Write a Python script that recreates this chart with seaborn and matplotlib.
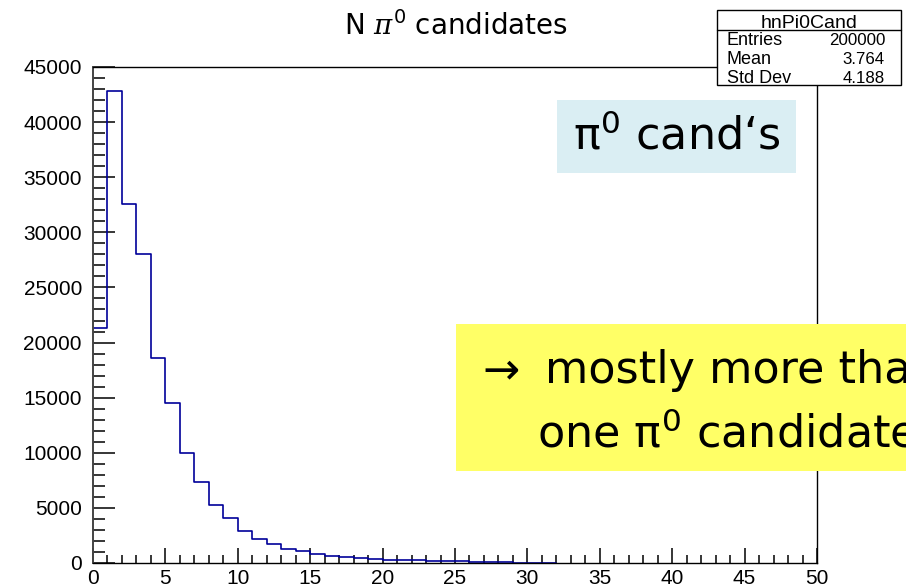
import numpy as np
import pandas as pd
import matplotlib
matplotlib.use("Agg")
import matplotlib.pyplot as plt
from matplotlib.patches import Rectangle
from matplotlib.lines import Line2D
from matplotlib.ticker import MultipleLocator
import seaborn as sns

# Number of pi0 candidates per event (integer bins 0..31) and entries per bin
n_candidates = list(range(32))
counts = [21350, 42850, 32600, 28050, 18600, 14480, 9950, 7380, 5260, 4050,
          2900, 2210, 1690, 1240, 1060, 820, 610, 510, 420, 340,
          250, 240, 230, 160, 150, 140, 60, 55, 50, 45, 40, 35]

x_ticks = list(range(0, 51, 5))
y_ticks = list(range(0, 45001, 5000))

hist_name = "hnPi0Cand"
stat_labels = ["Entries", "Mean", "Std Dev"]
stat_values = ["200000", "3.764", "4.188"]

sns.set_style("white")
plt.rcParams["font.family"] = ["Liberation Sans", "DejaVu Sans"]
plt.rcParams["text.color"] = "black"
plt.rcParams["mathtext.fontset"] = "custom"
plt.rcParams["mathtext.rm"] = "DejaVu Sans"
plt.rcParams["mathtext.it"] = "DejaVu Serif:italic"

W, H = 906, 587
fig = plt.figure(figsize=(W / 100, H / 100), dpi=100)


def fx(x):
    return x / W


def fy(y):
    return 1 - y / H


ax = fig.add_axes([fx(93), fy(563), fx(817 - 93), (563 - 67) / H])

df = pd.DataFrame({"n": n_candidates, "w": counts})
sns.histplot(data=df, x="n", weights="w", bins=list(range(33)),
             element="step", fill=False, color="#000099", linewidth=1.2, ax=ax)

ax.set_xlim(0, 50)
ax.set_ylim(0, 45000)
ax.set_xticks(x_ticks)
ax.set_yticks(y_ticks)
ax.xaxis.set_minor_locator(MultipleLocator(1))
ax.yaxis.set_minor_locator(MultipleLocator(1000))
ax.set_xlabel("")
ax.set_ylabel("")

ax.tick_params(axis="both", which="both", direction="in", colors="black",
               labelcolor="black", labelsize=15, top=False, right=False,
               bottom=True, left=True, width=1.1)
ax.tick_params(axis="y", which="major", length=16, pad=8)
ax.tick_params(axis="y", which="minor", length=8.5)
ax.tick_params(axis="x", which="major", length=11, pad=4)
ax.tick_params(axis="x", which="minor", length=5.5)
for s in ax.spines.values():
    s.set_visible(True)
    s.set_color("black")
    s.set_linewidth(1.0)
ax.spines["left"].set_color("#444444")
ax.spines["left"].set_linewidth(1.4)

# Title
fig.text(fx(455.5), fy(35), r"N $\pi^{0}$ candidates", ha="center",
         va="baseline", fontsize=20, family="DejaVu Sans")

# Statistics box
fig.add_artist(Rectangle((fx(717), fy(85)), fx(901 - 717), (85 - 9.5) / H,
                         transform=fig.transFigure, facecolor="white",
                         edgecolor="black", linewidth=1.0, zorder=5))
fig.add_artist(Line2D([fx(717), fx(901)], [fy(29.8), fy(29.8)],
                      transform=fig.transFigure, color="black",
                      linewidth=1.0, zorder=6))
fig.text(fx(809), fy(27.8), hist_name, ha="center", va="baseline",
         fontsize=14, zorder=7)
for i, (lab, val) in enumerate(zip(stat_labels, stat_values)):
    yb = 45 + 18.8 * i
    fig.text(fx(727), fy(yb), lab, ha="left", va="baseline",
             fontsize=13, zorder=7)
    fig.text(fx(885), fy(yb), val, ha="right", va="baseline",
             fontsize=12.2, zorder=7)

# Note boxes
fig.add_artist(Rectangle((fx(557), fy(173)), fx(796 - 557), (173 - 100) / H,
                         transform=fig.transFigure, facecolor="#daeef3",
                         edgecolor="none", zorder=5))
fig.text(fx(573), fy(150), "π$^{0}$ cand\u2018s", ha="left", va="baseline",
         fontsize=32, family="DejaVu Sans", zorder=7)

fig.add_artist(Rectangle((fx(456), fy(471)), fx(1000 - 456), (471 - 324) / H,
                         transform=fig.transFigure, facecolor="#ffff66",
                         edgecolor="none", zorder=5))
fig.text(fx(482), fy(383), "\u2192", ha="left",
         va="baseline", fontsize=32, family="DejaVu Sans", zorder=7)
fig.text(fx(545), fy(383), "mostly more than", ha="left",
         va="baseline", fontsize=32, family="DejaVu Sans", zorder=7)
fig.text(fx(537), fy(447), "one π$^{0}$ candidate", ha="left",
         va="baseline", fontsize=32, family="DejaVu Sans", zorder=7)

fig.savefig("out.png", dpi=100)
